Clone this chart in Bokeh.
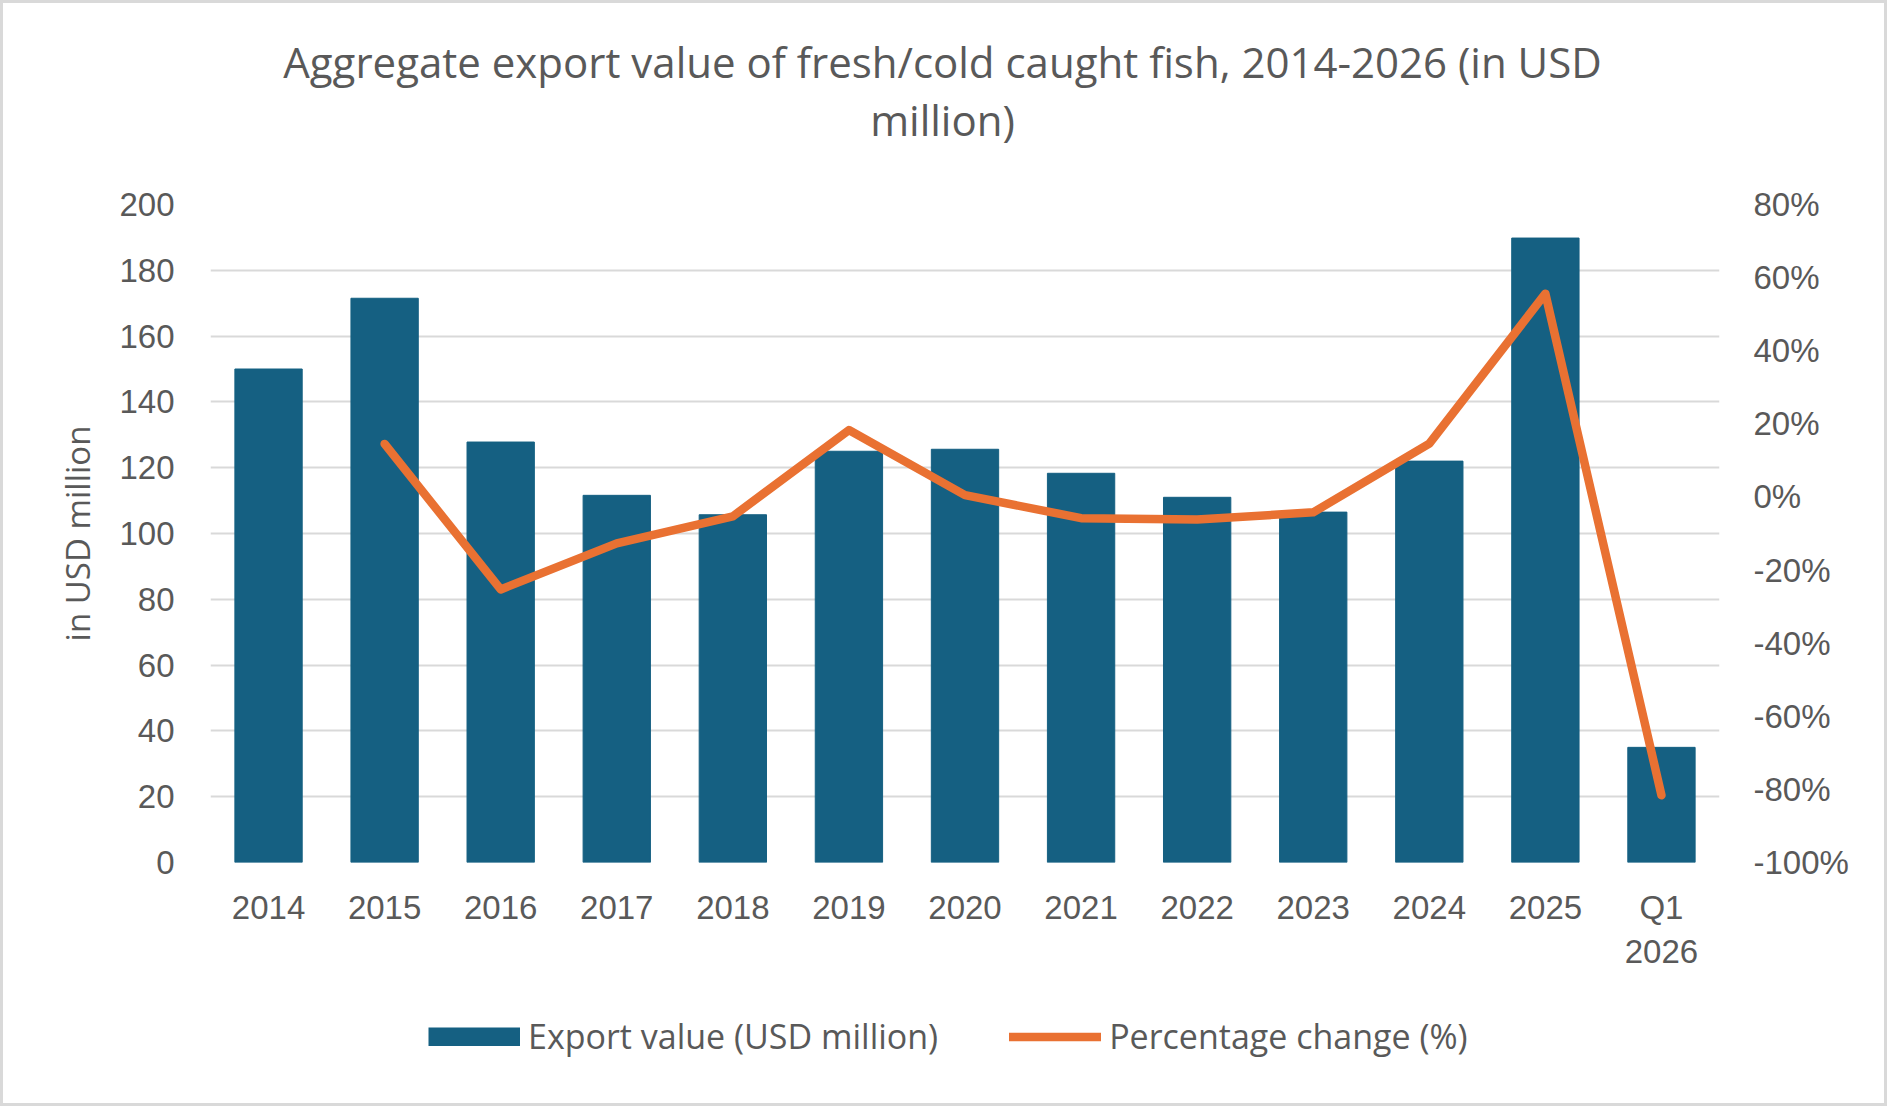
from bokeh.plotting import figure
from bokeh.layouts import column
from bokeh.models import (Range1d, FactorRange, LinearAxis, FixedTicker,
                          PrintfTickFormatter, Label, Legend, LegendItem)
from bokeh.embed import file_html
from bokeh.resources import INLINE

# Categories (years) and the two series
years = ["2014", "2015", "2016", "2017", "2018", "2019", "2020",
         "2021", "2022", "2023", "2024", "2025", "Q1\n2026"]
export_value = [150.0, 171.5, 127.8, 111.6, 105.7, 125.0, 125.6,
                118.3, 111.0, 106.5, 122.0, 189.8, 35.0]
pct_change = [None, 14.5, -25.3, -12.7, -5.3, 18.3, 0.5,
              -5.8, -6.2, -4.2, 14.6, 55.6, -81.6]

left_ticks = [0, 20, 40, 60, 80, 100, 120, 140, 160, 180, 200]
right_ticks = [-100, -80, -60, -40, -20, 0, 20, 40, 60, 80]

title_lines = ["Aggregate export value of fresh/cold caught fish, 2014-2026 (in USD",
               "million)"]
bar_label = "Export value (USD million)"
line_label = "Percentage change (%)"
y_label = "in USD million"

BAR = "#156082"
LINE = "#E97132"
TEXT = "#595959"
GRID = "#D9D9D9"
TICK_FONT = "Liberation Sans"
TEXT_FONT = "Open Sans"
W = 1881


def strip(height):
    """A blank, axis-less figure used for the title and legend rows."""
    f = figure(width=W, height=height, x_range=Range1d(0, 1), y_range=Range1d(0, 1),
               x_axis_location=None, y_axis_location=None, min_border=0,
               output_backend="svg", toolbar_location=None)
    f.outline_line_color = None
    f.grid.visible = False
    f.border_fill_color = "white"
    return f


# ---- Title row ----
head = strip(170)
for text, yy in zip(title_lines, [112, 54]):
    head.add_layout(Label(x=732, y=yy, x_units="screen", y_units="screen",
                          text=text, text_align="center",
                          text_baseline="alphabetic", text_font=TEXT_FONT,
                          text_font_size="42px", text_color=TEXT))

# ---- Main chart ----
p = figure(width=W, height=820,
           x_range=FactorRange(*years, range_padding=0),
           y_range=Range1d(0, 200),
           min_border_left=207, min_border_right=165,
           min_border_top=31, min_border_bottom=131,
           output_backend="svg", toolbar_location=None)
p.outline_line_color = None
p.background_fill_color = "white"
p.border_fill_color = "white"

p.extra_y_ranges = {"pct": Range1d(-100, 80)}

# Bars: export value
bars = p.vbar(x=years, top=export_value, width=0.58, color=BAR)

# Line: percentage change (no value for the first year)
line_x = [y for y, v in zip(years, pct_change) if v is not None]
line_y = [v for v in pct_change if v is not None]
line = p.line(x=line_x, y=line_y, y_range_name="pct", line_color=LINE,
              line_width=8.5, line_join="round", line_cap="round")

# Grid
p.xgrid.visible = False
p.ygrid.ticker = FixedTicker(ticks=left_ticks)
p.ygrid.grid_line_color = GRID
p.ygrid.grid_line_width = 2

# Left axis
ya = p.yaxis[0]
ya.ticker = FixedTicker(ticks=left_ticks)
ya.axis_line_color = None
ya.major_tick_line_color = None
ya.minor_tick_line_color = None
ya.major_tick_in = 0
ya.major_tick_out = 0
ya.major_label_standoff = 36
ya.major_label_text_font = TICK_FONT
ya.major_label_text_font_size = "33px"
ya.major_label_text_color = TEXT
ya.axis_label = y_label
ya.axis_label_text_font = TEXT_FONT
ya.axis_label_text_font_size = "33px"
ya.axis_label_text_font_style = "normal"
ya.axis_label_text_color = TEXT
ya.axis_label_standoff = 16

# Right axis
ra = LinearAxis(y_range_name="pct", ticker=FixedTicker(ticks=right_ticks),
                formatter=PrintfTickFormatter(format="%d%%"))
ra.axis_line_color = None
ra.major_tick_line_color = None
ra.minor_tick_line_color = None
ra.major_tick_in = 0
ra.major_tick_out = 0
ra.major_label_standoff = 34
ra.major_label_text_font = TICK_FONT
ra.major_label_text_font_size = "33px"
ra.major_label_text_color = TEXT
p.add_layout(ra, "right")

# Bottom axis
xa = p.xaxis[0]
xa.axis_line_color = None
xa.major_tick_line_color = None
xa.minor_tick_line_color = None
xa.major_tick_in = 0
xa.major_tick_out = 0
xa.major_label_standoff = 26
xa.major_label_text_font = TICK_FONT
xa.major_label_text_font_size = "33px"
xa.major_label_text_color = TEXT

# ---- Legend row; its key glyphs sit outside the visible range ----
lg = strip(110)
key_bar = lg.line(x=[-10, -9], y=[-10, -10], line_color=BAR,
                  line_width=19, line_cap="butt")
key_line = lg.line(x=[-10, -9], y=[-10, -10], line_color=LINE,
                   line_width=8.5, line_cap="round")
legend = Legend(items=[LegendItem(label=bar_label, renderers=[key_bar]),
                       LegendItem(label=line_label, renderers=[key_line])],
                orientation="horizontal", location=(218, 44),
                glyph_width=92, glyph_height=19, label_standoff=8,
                spacing=71, padding=0, margin=0,
                label_text_font=TEXT_FONT, label_text_font_size="34px",
                label_text_color=TEXT, border_line_color=None,
                background_fill_alpha=0)
lg.add_layout(legend)

layout = column(head, p, lg, spacing=0)
layout.styles = {"border": "3px solid #D9D9D9"}

open("out.html", "w").write(file_html(layout, INLINE))
